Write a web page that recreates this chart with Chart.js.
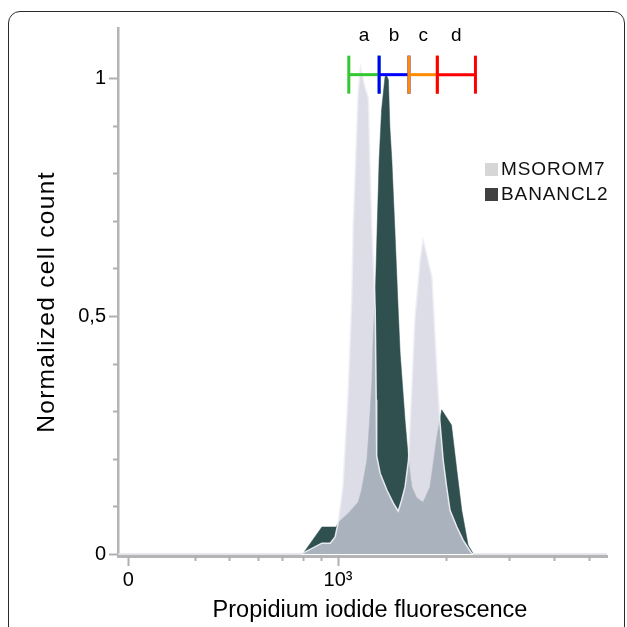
<!DOCTYPE html>
<html><head><meta charset="utf-8">
<script src="https://cdn.jsdelivr.net/npm/chart.js@4.4.0/dist/chart.umd.min.js"></script>
<style>
html,body{margin:0;padding:0;background:#fff;overflow:hidden;}
#wrap{position:relative;width:627px;height:627px;}
#frame{position:absolute;left:8px;top:11px;width:617px;height:700px;border:1.5px solid #2a2a2a;border-radius:12px;box-sizing:border-box;pointer-events:none;}
canvas{position:absolute;left:0;top:0;}
</style></head><body>
<div id="wrap"><canvas id="c" width="627" height="627"></canvas><div id="frame"></div></div>
<script>
// ---- data (x in display channels 0..1000, y normalized cell count) ----
const seriesNames = ['MSOROM7', 'BANANCL2'];
const msoromX = [0, 372, 378, 417, 434, 444, 450, 460, 466, 470, 478, 481, 486, 491, 496, 505, 512, 515, 519, 526, 528, 529, 536, 550, 563, 573, 580, 587, 594, 601, 607, 618, 624, 642, 652, 658, 665, 672, 679, 693, 706, 723, 732, 1000];
const msoromY = [0, 0, 0.002, 0.023, 0.023, 0.036, 0.065, 0.141, 0.254, 0.324, 0.534, 0.687, 0.828, 0.968, 1.023, 0.981, 0.958, 0.828, 0.687, 0.513, 0.324, 0.206, 0.170, 0.134, 0.107, 0.090, 0.113, 0.141, 0.197, 0.351, 0.492, 0.618, 0.660, 0.582, 0.387, 0.282, 0.197, 0.141, 0.092, 0.057, 0.029, 0.002, 0, 0];
const bananX = [0, 372, 379, 417, 446, 451, 471, 491, 498, 509, 515, 519, 522, 526, 530, 534, 539, 546, 549, 553, 556, 560, 566, 573, 577, 587, 594, 601, 611, 624, 638, 652, 662, 682, 693, 703, 716, 727, 1000];
const bananY = [0, 0, 0.002, 0.057, 0.057, 0.067, 0.086, 0.109, 0.134, 0.197, 0.288, 0.359, 0.464, 0.534, 0.687, 0.828, 0.933, 1.002, 1.006, 0.996, 0.897, 0.828, 0.687, 0.513, 0.422, 0.282, 0.197, 0.141, 0.118, 0.109, 0.141, 0.246, 0.303, 0.271, 0.176, 0.092, 0.019, 0, 0];
const xTickValues = [21, 157, 228, 287, 336, 378, 415, 450, 671, 800, 892, 963];
const xTickLabels = ['0', '', '', '', '', '', '', '10³', '', '', '', ''];
const yTickValues = [0, 0.1, 0.2, 0.3, 0.4, 0.5, 0.6, 0.7, 0.8, 0.9, 1];
const yTickLabels = ['0', '', '', '', '', '0,5', '', '', '', '', '1'];
const gateEdges = [472, 534, 595, 653, 731];
const gateNames = ['a', 'b', 'c', 'd'];
const gateColors = ['rgb(50,200,50)', 'rgb(0,0,255)', 'rgb(255,140,0)', 'rgb(255,0,0)'];
const gateLevel = 1.007;
const xTitle = 'Propidium iodide fluorescence';
const yTitle = 'Normalized cell count';

const FONT = '"Liberation Sans", Arial, sans-serif';

const ticksPlugin = {
  id: 'customTicks',
  afterDraw(chart) {
    const {ctx} = chart;
    const xs = chart.scales.x, ys = chart.scales.y;
    ctx.save();
    ctx.strokeStyle = '#b0b0b0';
    ctx.lineWidth = 2;
    yTickValues.forEach((v, i) => {
      const py = Math.round(ys.getPixelForValue(v)) + 0.5;
      const len = yTickLabels[i] ? 9 : 5;
      ctx.beginPath(); ctx.moveTo(xs.left - len, py); ctx.lineTo(xs.left, py); ctx.stroke();
    });
    xTickValues.forEach((v, i) => {
      const px = Math.round(xs.getPixelForValue(v)) + 0.5;
      const len = xTickLabels[i] ? 10 : 5;
      ctx.beginPath(); ctx.moveTo(px, ys.bottom); ctx.lineTo(px, ys.bottom + len); ctx.stroke();
    });
    // axis titles
    ctx.fillStyle = '#000';
    ctx.textAlign = 'center';
    ctx.textBaseline = 'middle';
    ctx.font = '23.5px ' + FONT;
    ctx.letterSpacing = '0px';
    ctx.fillText(xTitle, 370, 611);
    ctx.save();
    ctx.translate(47, 302);
    ctx.rotate(-Math.PI / 2);
    ctx.font = '24.5px ' + FONT;
    ctx.letterSpacing = '1.3px';
    ctx.fillText(yTitle, 0, 0);
    ctx.restore();
    ctx.restore();
  }
};

const gatesPlugin = {
  id: 'gates',
  afterDatasetsDraw(chart) {
    const {ctx} = chart;
    const xs = chart.scales.x, ys = chart.scales.y;
    const yl = ys.getPixelForValue(gateLevel);
    ctx.save();
    ctx.lineWidth = 3;
    for (let i = 0; i < gateNames.length; i++) {
      const x1 = xs.getPixelForValue(gateEdges[i]);
      const x2 = xs.getPixelForValue(gateEdges[i + 1]);
      ctx.strokeStyle = gateColors[i];
      ctx.beginPath(); ctx.moveTo(x1, yl); ctx.lineTo(x2, yl); ctx.stroke();
      ctx.beginPath(); ctx.moveTo(x1, yl - 19); ctx.lineTo(x1, yl + 19); ctx.stroke();
      ctx.beginPath(); ctx.moveTo(x2, yl - 19); ctx.lineTo(x2, yl + 19); ctx.stroke();
      ctx.fillStyle = '#000';
      ctx.font = '19px ' + FONT;
      ctx.textAlign = 'center';
      ctx.textBaseline = 'middle';
      ctx.fillText(gateNames[i], (x1 + x2) / 2, yl - 39);
    }
    ctx.restore();
  }
};

const legendPlugin = {
  id: 'customLegend',
  afterDraw(chart) {
    const {ctx} = chart;
    const sw = ['#d6d6d6', '#404040'];
    ctx.save();
    ctx.font = '19px ' + FONT;
    ctx.letterSpacing = '0.9px';
    ctx.textBaseline = 'middle';
    ctx.textAlign = 'left';
    seriesNames.forEach((n, i) => {
      const y0 = 163 + i * 25;
      ctx.fillStyle = sw[i];
      ctx.fillRect(485, y0, 13, 13);
      ctx.fillStyle = '#111';
      ctx.fillText(n, 501, y0 + 7);
    });
    ctx.restore();
  }
};

const toPts = (xs, ys) => xs.map((x, i) => ({x: x, y: ys[i]}));

new Chart(document.getElementById('c'), {
  type: 'line',
  data: {
    datasets: [
      {
        label: seriesNames[0],
        data: toPts(msoromX, msoromY),
        backgroundColor: 'rgba(209,210,224,0.76)',
        borderColor: 'rgba(238,238,246,0.95)',
        borderWidth: 1.5,
        fill: 'origin',
        pointRadius: 0,
        tension: 0,
        order: 0
      },
      {
        label: seriesNames[1],
        data: toPts(bananX, bananY),
        backgroundColor: 'rgb(47,80,79)',
        borderColor: 'rgb(47,80,79)',
        borderWidth: 0.5,
        fill: 'origin',
        pointRadius: 0,
        tension: 0,
        order: 1
      }
    ]
  },
  options: {
    responsive: false,
    animation: false,
    devicePixelRatio: 1,
    layout: {padding: {top: 28, right: 20, left: 0, bottom: 0}},
    plugins: {legend: {display: false}, tooltip: {enabled: false}},
    scales: {
      x: {
        type: 'linear',
        min: 0, max: 1000,
        afterFit: s => { s.height = 71; },
        afterBuildTicks: s => { s.ticks = xTickValues.map(v => ({value: v})); },
        grid: {display: false, drawTicks: false},
        border: {display: true, color: '#b4b4b4', width: 3},
        ticks: {
          autoSkip: false, maxRotation: 0, padding: 12,
          color: '#000',
          font: {family: FONT, size: 20},
          callback: (v, i) => xTickLabels[i]
        },
        title: {display: false}
      },
      y: {
        type: 'linear',
        min: -0.004, max: 1.105,
        afterFit: s => { s.width = 118; },
        afterBuildTicks: s => { s.ticks = yTickValues.map(v => ({value: v})); },
        grid: {display: false, drawTicks: false},
        border: {display: true, color: '#b4b4b4', width: 2.5},
        ticks: {
          padding: 12,
          color: '#000',
          font: {family: FONT, size: 20},
          callback: (v, i) => yTickLabels[i]
        },
        title: {display: false}
      }
    }
  },
  plugins: [ticksPlugin, gatesPlugin, legendPlugin]
});
</script>
</body></html>
